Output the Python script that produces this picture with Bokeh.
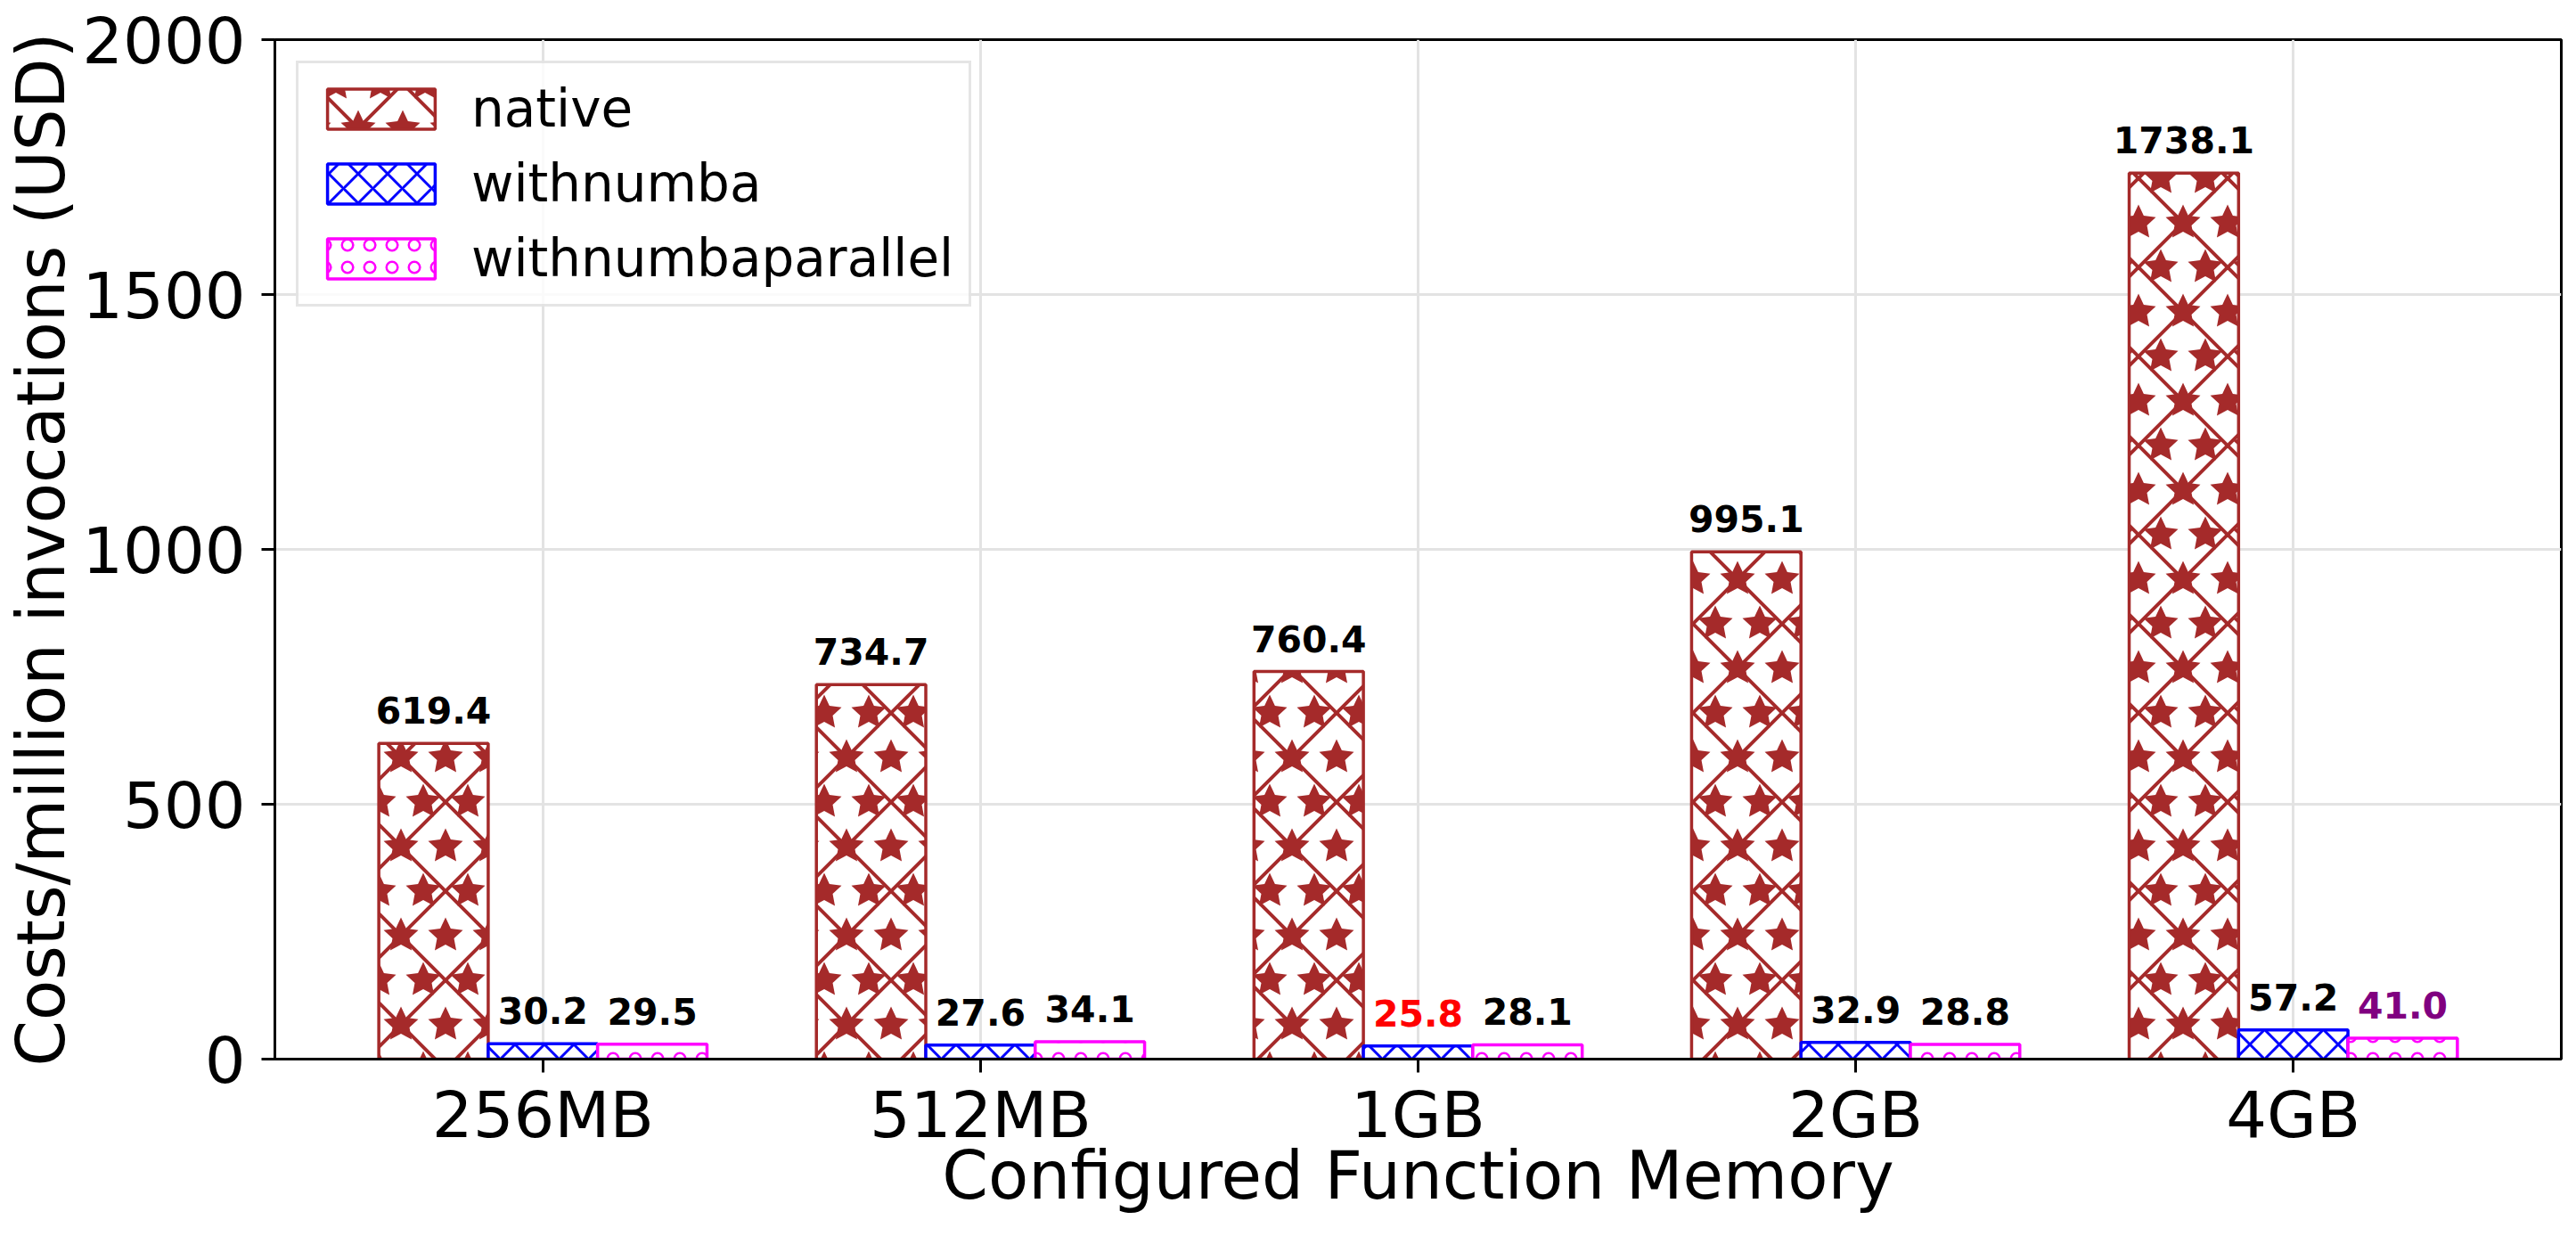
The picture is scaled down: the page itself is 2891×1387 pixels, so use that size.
import base64, math
from bokeh.plotting import figure
from bokeh.models import ColumnDataSource, FixedTicker, ImageURLTexture, Range1d
from bokeh.core.properties import value
from bokeh.embed import file_html
from bokeh.resources import INLINE

# ---------------- data ----------------
categories = ["256MB", "512MB", "1GB", "2GB", "4GB"]
native = [619.4, 734.7, 760.4, 995.1, 1738.1]
withnumba = [30.2, 27.6, 25.8, 32.9, 57.2]
withnumbaparallel = [29.5, 34.1, 28.1, 28.8, 41.0]
series_names = ["native", "withnumba", "withnumbaparallel"]
label_colors_native = ["black", "black", "black", "black", "black"]
label_colors_withnumba = ["black", "black", "#ff0000", "black", "black"]
label_colors_parallel = ["black", "black", "black", "black", "#800080"]
y_ticks = [0, 500, 1000, 1500, 2000]

# ---------------- styles ----------------
FONT = "DejaVu Sans"
colors = ["#a52a2a", "#0000ff", "#ff00ff"]
offsets = [-0.25, 0.0, 0.25]
bar_width = 0.25


def star_tile_svg(s, col, lw):
    lines = []
    for dx in (-1, 0, 1):
        for dy in (-1, 0, 1):
            lines.append((dx * s, dy * s, dx * s + s, dy * s + s))
            lines.append((dx * s + s, dy * s, dx * s, dy * s + s))
    line_xml = "".join('<line x1="%g" y1="%g" x2="%g" y2="%g"/>' % l for l in lines)
    R, r = 0.205 * s, 0.1 * s
    centers = [(0.25, 0), (0.75, 0), (0.25, 1), (0.75, 1), (0, 0.5), (0.5, 0.5), (1, 0.5)]
    polys = []
    for cx, cy in centers:
        pts = []
        for i in range(10):
            a = -math.pi / 2 + i * math.pi / 5
            rad = R if i % 2 == 0 else r
            pts.append("%.2f,%.2f" % (cx * s + rad * math.cos(a), cy * s + rad * math.sin(a)))
        polys.append('<polygon points="%s"/>' % " ".join(pts))
    svg = ('<svg xmlns="http://www.w3.org/2000/svg" width="%d" height="%d" viewBox="0 0 %d %d">'
           '<g stroke="%s" stroke-width="%g">%s</g><g fill="%s">%s</g></svg>'
           % (s, s, s, s, col, lw, line_xml, col, "".join(polys)))
    return "data:image/svg+xml;base64," + base64.b64encode(svg.encode()).decode()


native_texture = ImageURLTexture(url=star_tile_svg(100, colors[0], 4))

p = figure(width=2876, height=1371, output_backend="svg", toolbar_location=None,
           x_range=Range1d(-0.6125, 4.6125), y_range=Range1d(0, 2000),
           min_border_left=303, min_border_right=2, min_border_top=44, min_border_bottom=183)

series_values = [native, withnumba, withnumbaparallel]
series_label_colors = [label_colors_native, label_colors_withnumba, label_colors_parallel]
hatch_kw = [
    dict(hatch_pattern=dict(value="nstar"), hatch_extra={"nstar": native_texture}, hatch_scale=100),
    dict(hatch_pattern="diagonal_cross", hatch_scale=33, hatch_weight=3),
    dict(hatch_pattern="ring", hatch_scale=25, hatch_weight=2.5),
]

for k, name in enumerate(series_names):
    vals = series_values[k]
    xs = [i + offsets[k] for i in range(len(categories))]
    src = ColumnDataSource(dict(x=xs, top=vals,
                                label=["%.1f" % v for v in vals],
                                color=series_label_colors[k]))
    p.vbar(x="x", top="top", width=bar_width, source=src,
           fill_color="white", line_color=colors[k], line_width=3.5,
           hatch_color=colors[k], legend_label=name, **hatch_kw[k])
    p.text(x="x", y="top", text="label", source=src, text_align="center",
           text_baseline="alphabetic", y_offset=-37, text_color="color",
           text_font=value(FONT), text_font_style="bold", text_font_size="41px")

# axes
p.xaxis.ticker = FixedTicker(ticks=list(range(len(categories))))
p.xaxis.major_label_overrides = {i: c for i, c in enumerate(categories)}
p.yaxis.ticker = FixedTicker(ticks=y_ticks)
p.xaxis.axis_label = "Configured Function Memory"
p.yaxis.axis_label = "Costs/million invocations (USD)"
for ax in (p.xaxis, p.yaxis):
    ax.axis_label_text_font = FONT
    ax.axis_label_text_font_style = "normal"
    ax.axis_label_text_font_size = "74px"
    ax.axis_label_text_color = "black"
    ax.axis_label_text_line_height = 1.0
    ax.major_label_text_font = FONT
    ax.major_label_text_font_size = "72px"
    ax.major_label_text_color = "black"
    ax.major_label_text_line_height = 1.0
    ax.major_tick_in = 0
    ax.major_tick_out = 15
    ax.major_tick_line_width = 3
    ax.major_tick_line_color = "black"
    ax.minor_tick_line_color = None
    ax.axis_line_width = 3
    ax.axis_line_color = "black"
p.xaxis.major_label_standoff = 5
p.xaxis.axis_label_standoff = -20
p.yaxis.major_label_standoff = 18
p.yaxis.axis_label_standoff = 0

# grid
p.xgrid.ticker = FixedTicker(ticks=list(range(len(categories))))
p.ygrid.ticker = FixedTicker(ticks=y_ticks)
for g in (p.xgrid, p.ygrid):
    g.grid_line_color = "#e3e3e3"
    g.grid_line_width = 3

p.outline_line_color = "black"
p.outline_line_width = 3
p.outline_line_alpha = 1.0

# legend
lg = p.legend[0]
lg.location = "top_left"
lg.margin = 24
lg.padding = 17
lg.spacing = 16
lg.glyph_width = 151
lg.glyph_height = 56
lg.label_standoff = 26
lg.label_text_font = FONT
lg.label_text_font_size = "58px"
lg.label_text_color = "black"
lg.border_line_color = "#cccccc"
lg.border_line_width = 3
lg.background_fill_alpha = 0.8

open("out.html", "w").write(file_html(p, INLINE))
